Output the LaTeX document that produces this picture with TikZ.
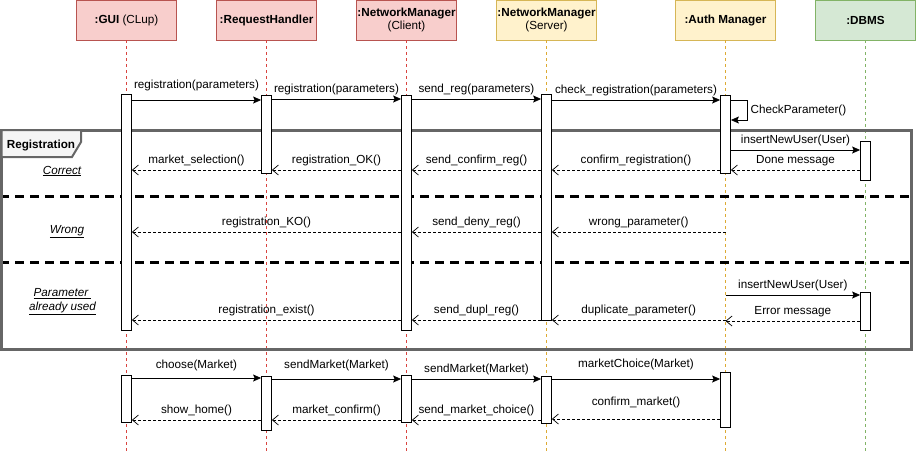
\documentclass[tikz,border=0pt]{standalone}
\usepackage{fontspec}
\setmainfont{Liberation Sans}
\usetikzlibrary{arrows.meta}
\definecolor{redfill}{HTML}{F8CECC}
\definecolor{redline}{HTML}{B85450}
\definecolor{redlife}{HTML}{D9443F}
\definecolor{yelfill}{HTML}{FFF2CC}
\definecolor{yelline}{HTML}{D6B656}
\definecolor{yellife}{HTML}{DDAA33}
\definecolor{grnfill}{HTML}{D5E8D4}
\definecolor{grnline}{HTML}{82B366}
\definecolor{framegray}{HTML}{666666}
\definecolor{tabfill}{HTML}{F5F5F5}

\begin{document}
\begin{tikzpicture}[x=1pt,y=-1pt,
  font=\fontsize{11.7}{13.5}\selectfont,
  head/.style={draw,minimum width=100,minimum height=40,inner sep=0,align=center},
  bar/.style={draw,fill=white,line width=0.8pt,minimum width=10,inner sep=0,anchor=north},
  life/.style={dash pattern=on 3pt off 3pt,line width=0.6pt},
  call/.style={-{Stealth[length=8pt,width=7pt,inset=1.5pt]},line width=0.8pt},
  reply/.style={-{Straight Barb[length=6pt,width=10pt]},dash pattern=on 3pt off 2pt,line width=0.7pt},
  sep/.style={line width=3pt,dash pattern=on 9pt off 6pt},
  case/.style={font=\fontsize{11.7}{14}\selectfont\itshape,align=center}]
\useasboundingbox (0,0) rectangle (918,451);

\node[head,fill=redfill,draw=redline] (gui) at (126.5,20) {\textbf{:GUI} (CLup)};
\node[head,fill=redfill,draw=redline] (rh) at (266.5,20) {\textbf{:RequestHandler}};
\node[head,fill=redfill,draw=redline] (nmc) at (406.5,20) {\textbf{:NetworkManager}\\(Client)};
\node[head,fill=yelfill,draw=yelline] (nms) at (546.5,20) {\textbf{:NetworkManager}\\(Server)};
\node[head,fill=yelfill,draw=yelline] (auth) at (725.5,20) {\textbf{:Auth Manager}};
\node[head,fill=grnfill,draw=grnline] (dbms) at (865.5,20) {\textbf{:DBMS}};

\foreach \n/\c in {gui/redlife,rh/redlife,nmc/redlife,nms/yellife,auth/yellife,dbms/grnline}
  \draw[life,\c] (\n.south) -- (\n.south |- 0,451);

\draw[sep] (0,196) -- (911,196) (0,262) -- (911,262);
\draw[framegray,line width=3pt] (1.5,130) rectangle (911,349);
\draw[framegray,line width=2pt,fill=tabfill] (1.5,130) -- (81,130) -- (81,142) -- (72,157) -- (1.5,157) -- cycle;
\node (regtab) at (41,145) {\textbf{Registration}};
\node[case] (correct) at (62,171) {\underline{Correct}};
\node[case] (wrong) at (67,232) {\underline{Wrong}};
\node[case] (used) at (62.5,302) {\underline{Parameter }\\\underline{already used}};

\node[bar,minimum height=236] (gui1) at (gui |- 0,94) {};
\node[bar,minimum height=78] (rh1) at (rh |- 0,95) {};
\node[bar,minimum height=235] (nmc1) at (nmc |- 0,95) {};
\node[bar,minimum height=226] (nms1) at (nms |- 0,94) {};
\node[bar,minimum height=78] (auth1) at (auth |- 0,95) {};
\node[bar,minimum height=39] (dbms1) at (dbms |- 0,141) {};
\node[bar,minimum height=38] (dbms2) at (dbms |- 0,292) {};
\node[bar,minimum height=47] (gui2) at (gui |- 0,375) {};
\node[bar,minimum height=54] (rh2) at (rh |- 0,376) {};
\node[bar,minimum height=47] (nmc2) at (nmc |- 0,375) {};
\node[bar,minimum height=47] (nms2) at (nms |- 0,376) {};
\node[bar,minimum height=55] (auth2) at (auth |- 0,372) {};

\draw[call] (gui1.east |- 0,100) -- (rh1.west |- 0,100) node[midway,above=5pt] {registration(parameters)};
\draw[call] (rh1.east |- 0,99) -- (nmc1.west |- 0,99) node[midway,above] {registration(parameters)};
\draw[call] (nmc1.east |- 0,99) -- (nms1.west |- 0,99) node[midway,above] {send\_reg(parameters)};
\draw[call] (nms1.east |- 0,100) -- (auth1.west |- 0,100) node[midway,above] {check\_registration(parameters)};
\draw[call] (auth1.east |- 0,100) -- ++(16,0) |- (auth1.east |- 0,120) node[pos=0.25,right] {CheckParameter()};

\draw[call] (auth1.east |- 0,150) -- (dbms1.west |- 0,150) node[midway,above] {insertNewUser(User)};
\draw[reply] (dbms1.west |- 0,170) -- (auth1.east |- 0,170) node[midway,above] {Done message};
\draw[reply] (auth1.west |- 0,170) -- (nms1.east |- 0,170) node[midway,above] {confirm\_registration()};
\draw[reply] (nms1.west |- 0,170) -- (nmc1.east |- 0,170) node[midway,above] {send\_confirm\_reg()};
\draw[reply] (nmc1.west |- 0,170) -- (rh1.east |- 0,170) node[midway,above] {registration\_OK()};
\draw[reply] (rh1.west |- 0,170) -- (gui1.east |- 0,170) node[midway,above] {market\_selection()};

\draw[reply] (auth |- 0,232) -- (nms1.east |- 0,232) node[midway,above] {wrong\_parameter()};
\draw[reply] (nms1.west |- 0,232) -- (nmc1.east |- 0,232) node[midway,above] {send\_deny\_reg()};
\draw[reply] (nmc1.west |- 0,232) -- (gui1.east |- 0,232) node[midway,above] {registration\_KO()};

\draw[call] (auth |- 0,295) -- (dbms2.west |- 0,295) node[midway,above] {insertNewUser(User)};
\draw[reply] (dbms2.west |- 0,321) -- (auth |- 0,321) node[midway,above] {Error message};
\draw[reply] (auth |- 0,320) -- (nms1.east |- 0,320) node[midway,above] {duplicate\_parameter()};
\draw[reply] (nms1.west |- 0,320) -- (nmc1.east |- 0,320) node[midway,above] {send\_dupl\_reg()};
\draw[reply] (nmc1.west |- 0,320) -- (gui1.east |- 0,320) node[midway,above] {registration\_exist()};

\draw[call] (gui2.east |- 0,378) -- (rh2.west |- 0,378) node[midway,above=3pt] {choose(Market)};
\draw[call] (rh2.east |- 0,379) -- (nmc2.west |- 0,379) node[midway,above=4pt] {sendMarket(Market)};
\draw[call] (nmc2.east |- 0,379) -- (nms2.west |- 0,379) node[midway,above] {sendMarket(Market)};
\draw[call] (nms2.east |- 0,379) -- (auth2.west |- 0,379) node[midway,above=5pt] {marketChoice(Market)};
\draw[reply] (auth2.west |- 0,419) -- (nms2.east |- 0,419) node[midway,above=7pt] {confirm\_market()};
\draw[reply] (nms2.west |- 0,420) -- (nmc2.east |- 0,420) node[midway,above] {send\_market\_choice()};
\draw[reply] (nmc2.west |- 0,420) -- (rh2.east |- 0,420) node[midway,above] {market\_confirm()};
\draw[reply] (rh2.west |- 0,420) -- (gui2.east |- 0,420) node[midway,above] {show\_home()};
\end{tikzpicture}
\end{document}
